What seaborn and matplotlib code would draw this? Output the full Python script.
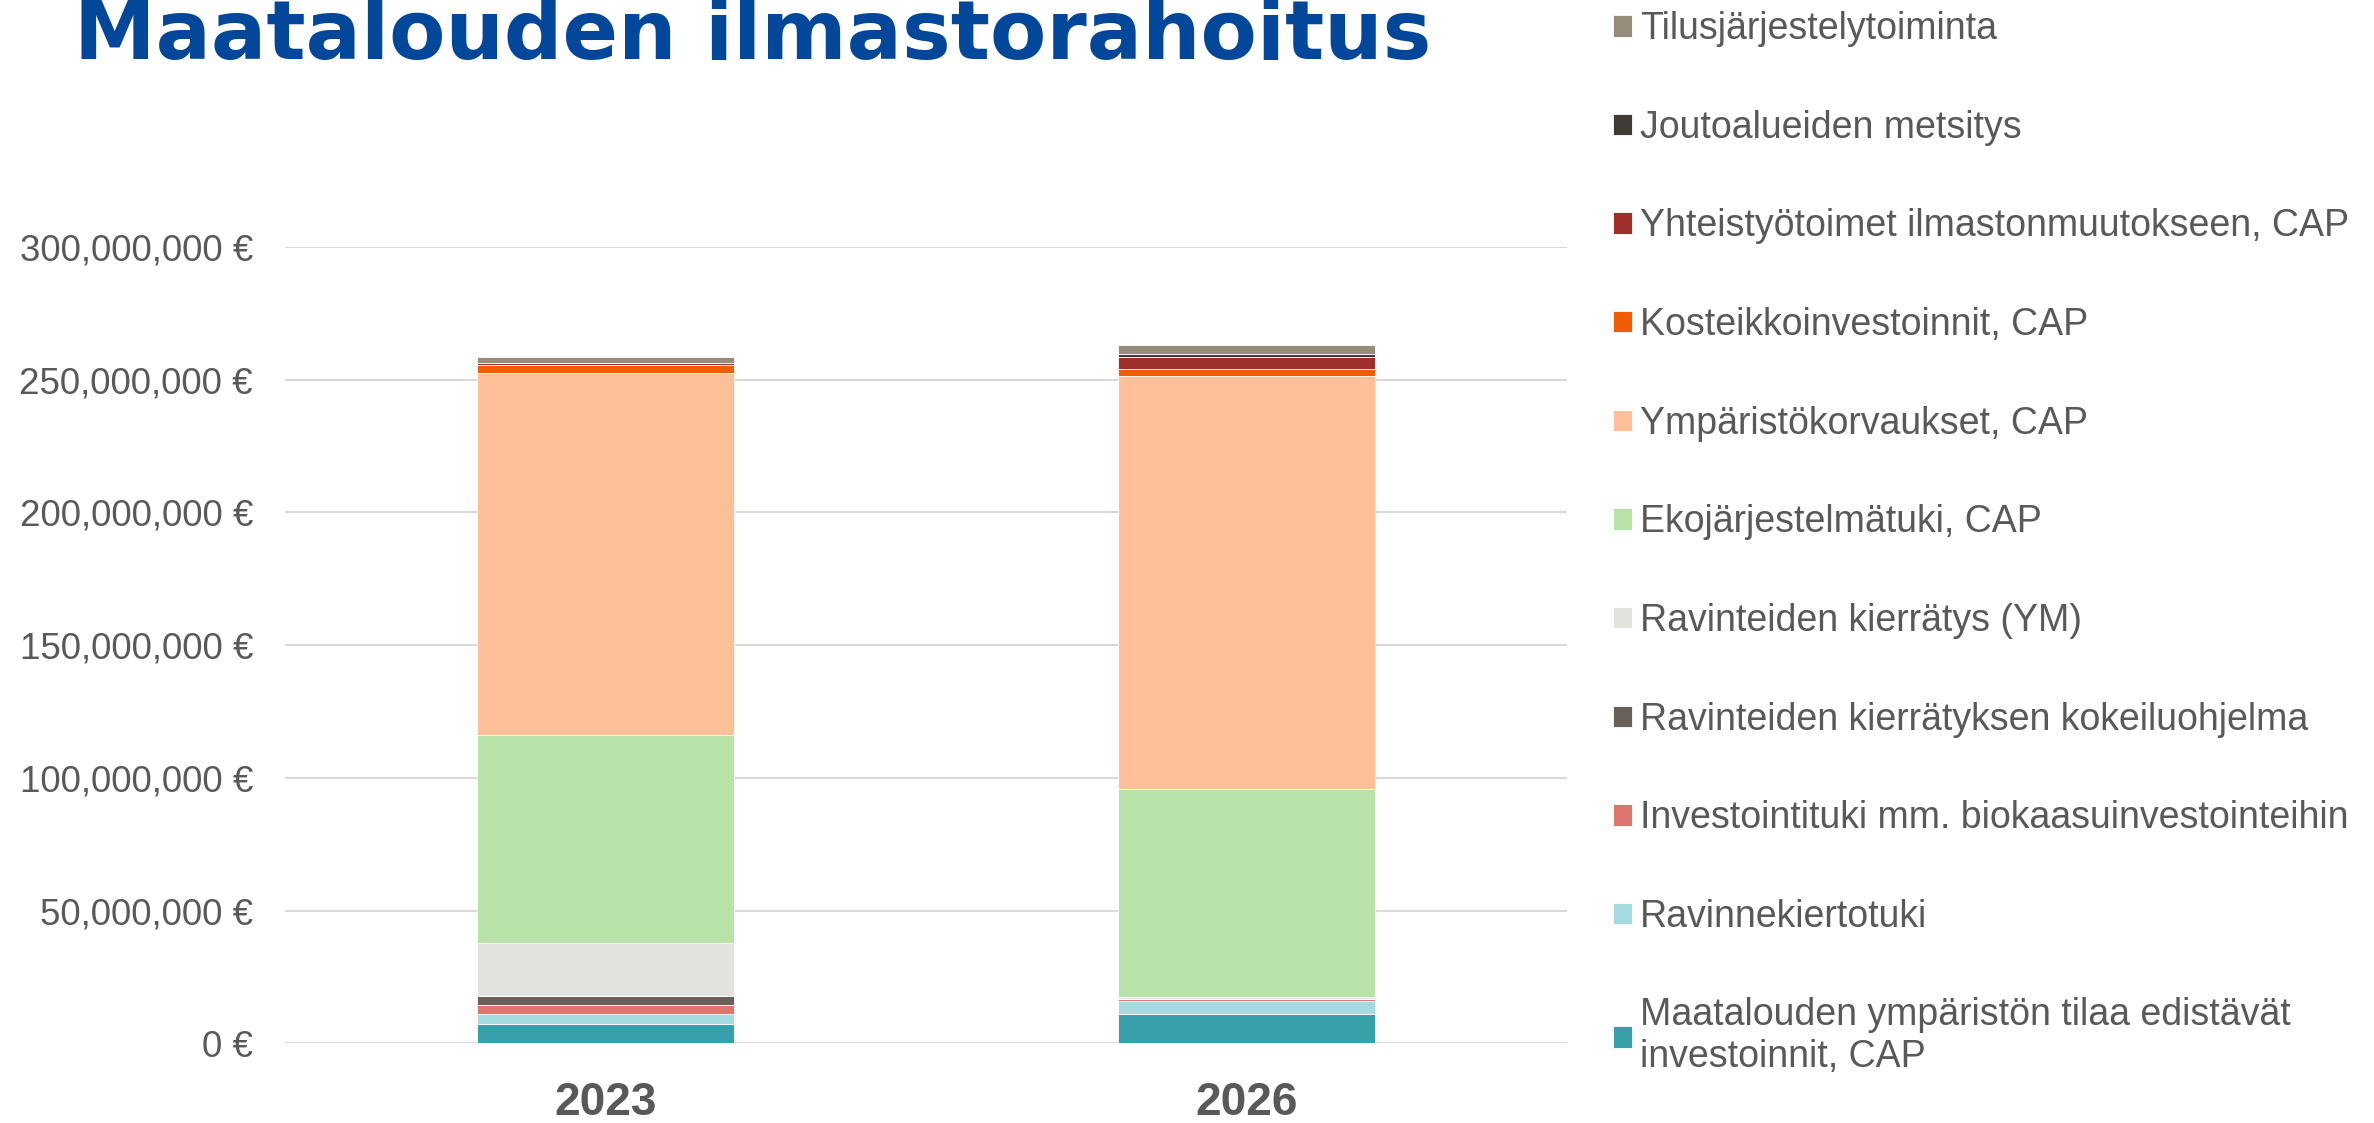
import matplotlib
matplotlib.use("Agg")
import matplotlib.pyplot as plt
from matplotlib.ticker import FuncFormatter, MultipleLocator
import seaborn as sns
import pandas as pd

# Funding categories, stacked bottom to top
years = ["2023", "2026"]
categories = [
    "Maatalouden ympäristön tilaa edistävät\ninvestoinnit, CAP",
    "Ravinnekiertotuki",
    "Investointituki mm. biokaasuinvestointeihin",
    "Ravinteiden kierrätyksen kokeiluohjelma",
    "Ravinteiden kierrätys (YM)",
    "Ekojärjestelmätuki, CAP",
    "Ympäristökorvaukset, CAP",
    "Kosteikkoinvestoinnit, CAP",
    "Yhteistyötoimet ilmastonmuutokseen, CAP",
    "Joutoalueiden metsitys",
    "Tilusjärjestelytoiminta",
]
colors = [
    "#38A0AA", "#A3DBE0", "#DE756E", "#69605A", "#E3E2DE", "#B9E2A8",
    "#FFBF99", "#F25C05", "#9E2F2B", "#403B37", "#958D79",
]
# Amounts in euros per year
values_2023 = [7.2e6, 4.0e6, 3.3e6, 3.2e6, 19.9e6, 78.4e6, 136.6e6, 3.0e6, 0.8e6, 0.0, 2.1e6]
values_2026 = [11.0e6, 4.9e6, 0.8e6, 0.0, 0.7e6, 78.5e6, 155.3e6, 3.0e6, 4.4e6, 1.0e6, 3.4e6]

sns.set_theme(style="white")
plt.rcParams["font.family"] = ["Liberation Sans", "DejaVu Sans"]

fig = plt.figure(figsize=(23.74, 11.23), dpi=100)
ax = fig.add_axes([0.1200, 0.0710, 0.5400, 0.7091])

text_grey = "#595959"
bottoms = [0.0, 0.0]
for cat, col, v23, v26 in zip(categories, colors, values_2023, values_2026):
    df = pd.DataFrame({"year": years, "amount": [v23, v26]})
    sns.barplot(data=df, x="year", y="amount", color=col, width=0.4,
                bottom=bottoms, errorbar=None, label=cat, ax=ax,
                edgecolor="white", linewidth=0.6, saturation=1)
    bottoms = [bottoms[0] + v23, bottoms[1] + v26]

if ax.get_legend() is not None:
    ax.get_legend().remove()

ax.set_ylim(0, 300e6)
ax.set_xlim(-0.5, 1.5)
ax.yaxis.set_major_locator(MultipleLocator(50e6))
ax.yaxis.set_major_formatter(FuncFormatter(lambda v, p: f"{v:,.0f} €"))
ax.grid(axis="y", color="#D9D9D9", linewidth=1.5)
ax.grid(axis="x", visible=False)
ax.set_axisbelow(True)
for s in ax.spines.values():
    s.set_visible(False)
ax.set_xlabel("")
ax.set_ylabel("")
ax.tick_params(axis="y", length=0, pad=23, labelsize=26.5, labelcolor=text_grey)
ax.tick_params(axis="x", length=0, pad=27, labelsize=33, labelcolor=text_grey)
for lab in ax.get_xticklabels():
    lab.set_fontweight("bold")

# Legend listed top to bottom, matching the stacking order
handles, labels = ax.get_legend_handles_labels()
leg = fig.legend(handles[::-1], labels[::-1], loc="upper left",
                 bbox_to_anchor=(1613 / 2374, 0.990), frameon=False,
                 fontsize=27, labelcolor=text_grey, borderpad=0,
                 borderaxespad=0,
                 handlelength=0.5, handleheight=0.5, handletextpad=0.22,
                 labelspacing=1.67)

fig.text(74 / 2374, 1 - 59 / 1123, "Maatalouden ilmastorahoitus",
         fontsize=59, fontweight="bold", color="#03479A",
         family="DejaVu Sans", ha="left", va="baseline")

fig.savefig("out.png", dpi=100)
